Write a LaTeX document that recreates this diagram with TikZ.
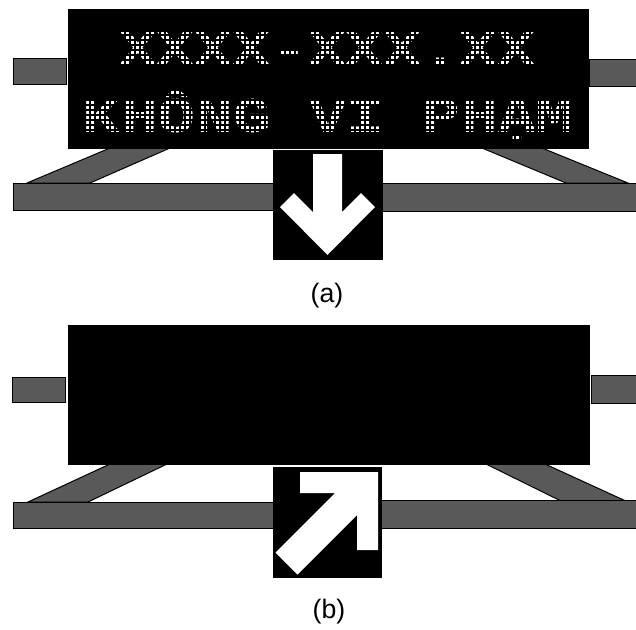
\documentclass[tikz,border=0pt]{standalone}
\usepackage{fontspec}
\setmainfont{Liberation Sans}
\newfontfamily\ledfont{Liberation Mono}

\begin{document}
\begin{tikzpicture}[x=0.75pt,y=0.75pt,yscale=-1,xscale=1,
  bar/.style={fill=black!65, draw=black, line width=0.75},
  board/.style={fill=black},
  led/.style={anchor=base, inner sep=0pt, text=white, xscale=1.26, font=\ledfont\bfseries\fontsize{37.5}{40}\selectfont},
  dots/.style={draw=black, line width=0.8, step=5},
  caption/.style={inner sep=0pt, font=\fontsize{20}{24}\selectfont}]
\useasboundingbox (0,0) rectangle (636,629);

%%%%%%%% (a)
%Shape: Parallelogram [left strut]
\draw [bar]   (110,148) -- (170,148) -- (90,183) -- (27,183) -- cycle ;
%Shape: Parallelogram [right strut]
\draw [bar]   (482,148) -- (542,148) -- (628,183) -- (566,183) -- cycle ;
%Shape: Rectangle [stubs]
\draw [bar]   (13,58) rectangle (66,84) ;
\draw [bar]   (589,59) rectangle (640,86) ;
%Shape: Rectangle [lower bars]
\draw [bar]   (13,183) rectangle (273,210) ;
\draw [bar]   (382,183) rectangle (640,211) ;
%Shape: Rectangle [board a]
\draw [board]   (68,9) rectangle (588,148) ;

% Text Node
\draw (327,65) node [led] (ta1) {XXXX-XXX.XX};
% Text Node
\draw (328,132) node [led] (ta2) {KHÔNG VI PHẠM};
%LED dots
\begin{scope}
\clip (68,9) rectangle (588,148);
\draw [dots]   (65,5) grid (590,150) ;
\end{scope}

%Shape: Square [arrow a]
\draw [board]   (273,150) rectangle (382,259) ;
%Shape: Polygon [down arrow]
\fill [white]   (327.5,255) -- (280,207) -- (294,193) -- (313,212) -- (313,154) -- (342,154) -- (342,212) -- (361,193) -- (375,207) -- cycle ;

% Text Node
\draw (327,296) node [caption] (ca) {(a)};

%%%%%%%% (b)
%Shape: Parallelogram [left strut]
\draw [bar]   (110,464) -- (167,464) -- (88,502) -- (28,502) -- cycle ;
%Shape: Parallelogram [right strut]
\draw [bar]   (486,464) -- (545,464) -- (628,502) -- (563,502) -- cycle ;
%Shape: Rectangle [stubs]
\draw [bar]   (12,377) rectangle (65,402) ;
\draw [bar]   (591,375) rectangle (640,403) ;
%Shape: Rectangle [lower bars]
\draw [bar]   (13,502) rectangle (273,528) ;
\draw [bar]   (381,500) rectangle (640,528) ;
%Shape: Rectangle [board b]
\draw [board]   (68,325) rectangle (589,464) ;

%Shape: Square [arrow b]
\draw [board]   (273,467) rectangle (381,577) ;
%Shape: Polygon [diagonal arrow]
\fill [white]   (300,472) -- (378,472) -- (378,550) -- (357,550) -- (357,515) -- (297.5,574.5) -- (275.5,552.5) -- (335,493) -- (300,493) -- cycle ;

% Text Node
\draw (329,612) node [caption] (cb) {(b)};

\end{tikzpicture}
\end{document}
